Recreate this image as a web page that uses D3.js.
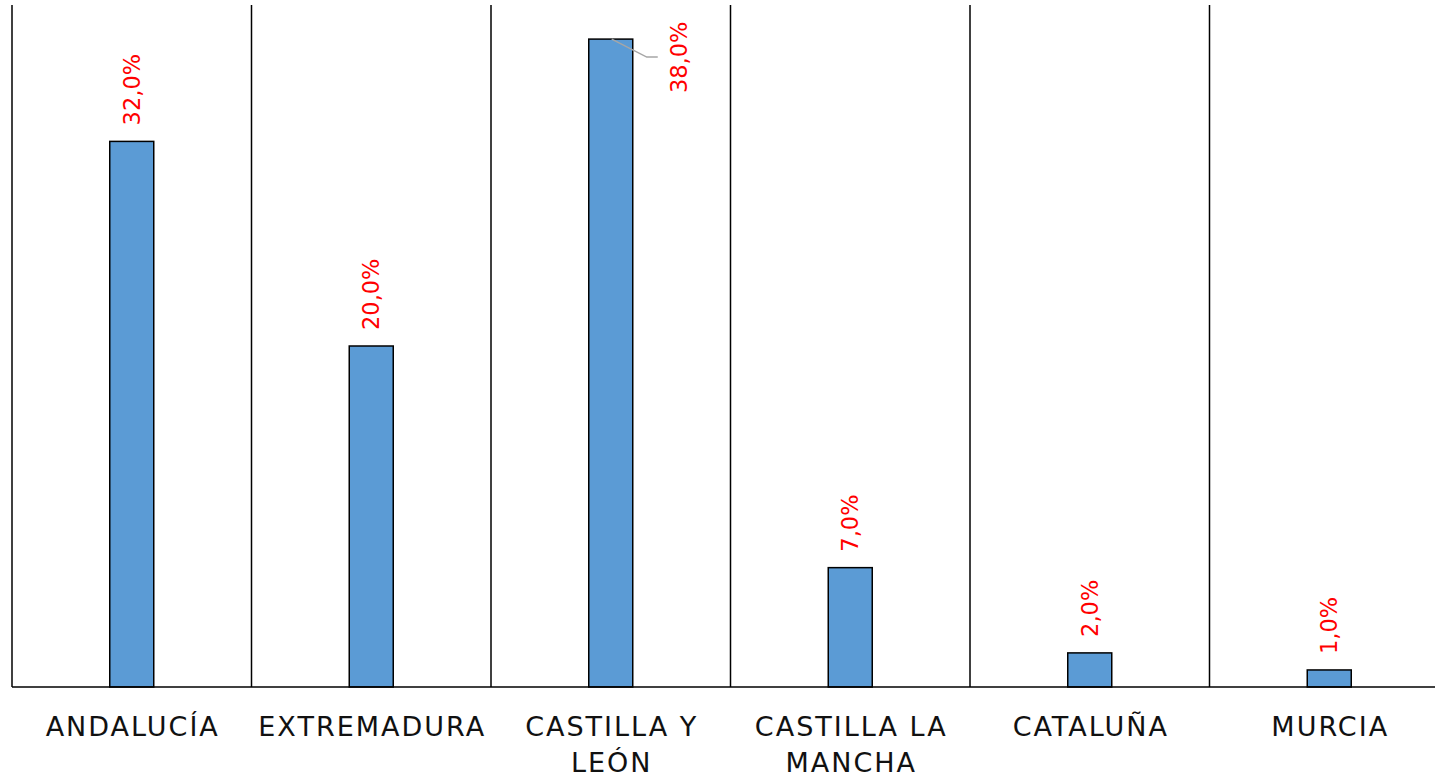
<!DOCTYPE html>
<html><head><meta charset="utf-8">
<script src="https://cdn.jsdelivr.net/npm/d3@7"></script>
<style>body{margin:0;background:#fff}svg{display:block}</style>
</head><body>
<svg id="c" width="1435" height="779"></svg>
<script>
const categories = [["ANDALUCÍA"],["EXTREMADURA"],["CASTILLA Y","LEÓN"],["CASTILLA LA","MANCHA"],["CATALUÑA"],["MURCIA"]];
const values = [32, 20, 38, 7, 2, 1];
const labels = ["32,0%","20,0%","38,0%","7,0%","2,0%","1,0%"];

const svg = d3.select("#c");
const x = d3.scaleBand().domain(d3.range(categories.length)).range([12, 1449]).paddingInner(0).paddingOuter(0);
const y = d3.scaleLinear().domain([0, 40]).range([687, 5]);
const bw = 44;

// vertical separators
svg.append("g").selectAll("line").data(d3.range(categories.length)).join("line")
  .attr("x1", d => x(d)).attr("x2", d => x(d)).attr("y1", y(40)).attr("y2", y(0))
  .attr("stroke", "#000").attr("stroke-width", 1.5);

// bars
svg.append("g").selectAll("rect").data(values).join("rect")
  .attr("x", (d,i) => x(i) + x.bandwidth()/2 - bw/2)
  .attr("y", d => y(d)).attr("width", bw).attr("height", d => y(0) - y(d))
  .attr("fill", "#5b9bd5").attr("stroke", "#000").attr("stroke-width", 1.5);

// baseline
svg.append("line").attr("x1", 12).attr("x2", 1435).attr("y1", y(0)).attr("y2", y(0))
  .attr("stroke", "#000").attr("stroke-width", 1.5);

// value labels
values.forEach((v, i) => {
  const cx = x(i) + x.bandwidth()/2;
  let tx = cx, ty = y(v) - 16;
  if (i === 2) {
    tx = cx + 68; ty = y(v) + 54;
    svg.append("polyline")
      .attr("points", `${cx+1},${y(v)} ${cx+36},${y(v)+18} ${cx+47},${y(v)+18}`)
      .attr("fill", "none").attr("stroke", "#a6a6a6").attr("stroke-width", 1.5);
  }
  svg.append("text")
    .attr("transform", `translate(${tx + 8},${ty}) rotate(-90)`)
    .attr("font-family", "DejaVu Sans").attr("font-size", 22.5).attr("fill", "#ff0000")
    .text(labels[i]);
});

// category labels
categories.forEach((lines, i) => {
  const cx = x(i) + x.bandwidth()/2 + 1;
  const t = svg.append("text").attr("text-anchor", "middle")
    .attr("font-family", "DejaVu Sans").attr("font-size", 27).attr("font-weight", 400)
    .attr("letter-spacing", 2).attr("fill", "#111");
  lines.forEach((l, j) => {
    t.append("tspan").attr("x", cx).attr("y", 736 + j*36).text(l);
  });
});
</script>
</body></html>
